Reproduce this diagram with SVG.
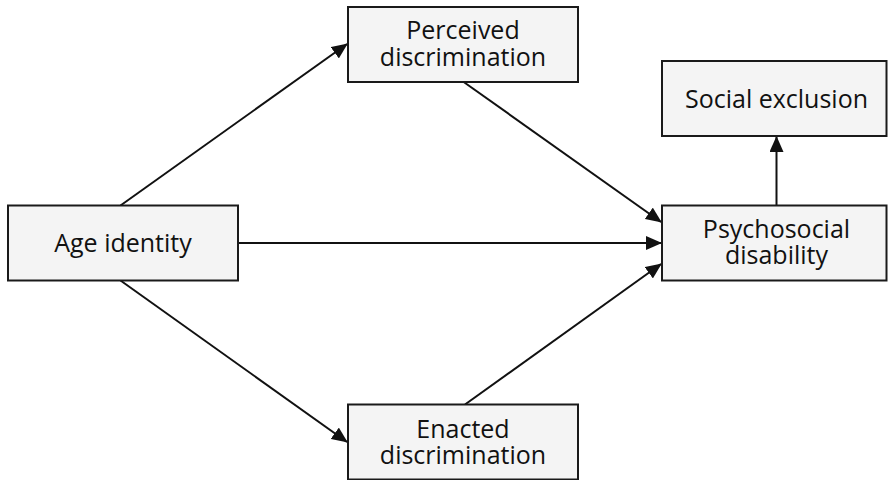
<svg xmlns="http://www.w3.org/2000/svg" width="888" height="480" viewBox="0 0 888 480">
<style>
.box{fill:#f4f4f4;stroke:#1a1a1a;stroke-width:2}
.lbl{font-family:"Open Sans","Noto Sans",sans-serif;font-size:25px;fill:#111;text-anchor:middle}
.edge{stroke:#111;stroke-width:2;fill:none;marker-end:url(#ah)}
</style>
<defs>
<marker id="ah" markerUnits="userSpaceOnUse" markerWidth="16" markerHeight="14" refX="15" refY="7" orient="auto">
<path d="M0,0 L16,7 L0,14 Z" fill="#111"/>
</marker>
</defs>
<rect width="888" height="480" fill="#fff"/>
<g id="connectors">
<line class="edge" x1="120.5" y1="205.5" x2="347" y2="44"/>
<line class="edge" x1="120.5" y1="280.5" x2="347" y2="442"/>
<line class="edge" x1="238" y1="243" x2="661" y2="243"/>
<line class="edge" x1="463" y1="81.5" x2="661" y2="222"/>
<line class="edge" x1="465" y1="404.5" x2="661" y2="264"/>
<line class="edge" x1="776.5" y1="205.5" x2="776.5" y2="137"/>
</g>
<g id="age-identity">
<rect class="box" x="8" y="205.5" width="230" height="75"/>
<text class="lbl" x="123" y="252">Age identity</text>
</g>
<g id="perceived-discrimination">
<rect class="box" x="348" y="7" width="230" height="75"/>
<text class="lbl" x="463" y="39">Perceived</text>
<text class="lbl" x="463" y="65.5">discrimination</text>
</g>
<g id="enacted-discrimination">
<rect class="box" x="348" y="404.5" width="230" height="75"/>
<text class="lbl" x="463" y="437.5">Enacted</text>
<text class="lbl" x="463" y="463.5">discrimination</text>
</g>
<g id="psychosocial-disability">
<rect class="box" x="662" y="205.5" width="224.5" height="75"/>
<text class="lbl" x="776.5" y="238">Psychosocial</text>
<text class="lbl" x="776.5" y="263.5">disability</text>
</g>
<g id="social-exclusion">
<rect class="box" x="662" y="61" width="224.5" height="75"/>
<text class="lbl" x="776.5" y="108">Social exclusion</text>
</g>
</svg>
